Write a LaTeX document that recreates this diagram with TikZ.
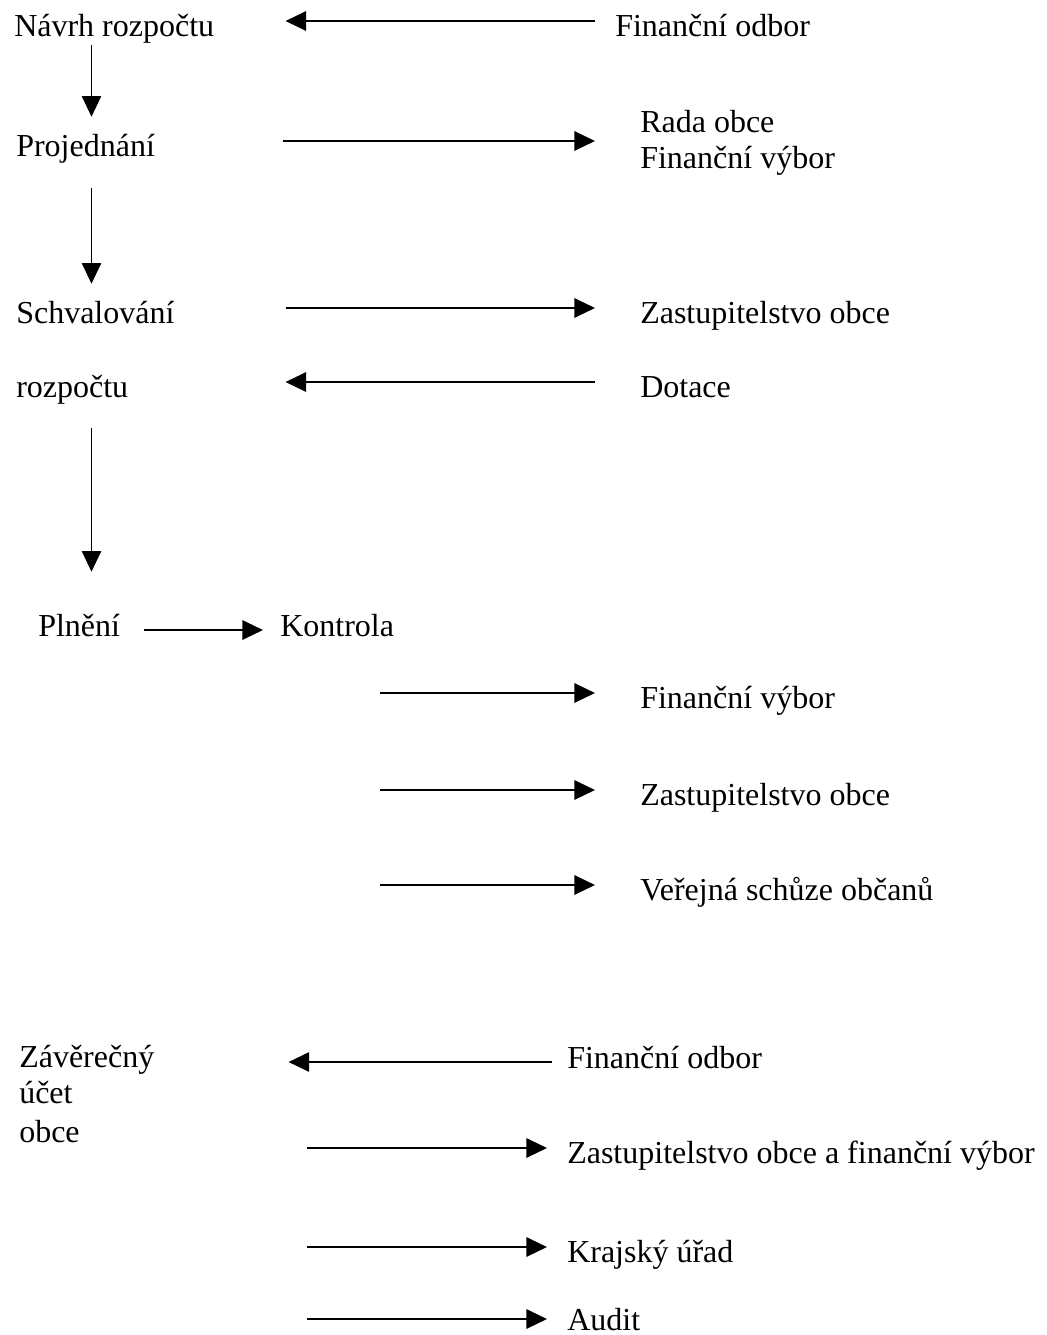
\documentclass[tikz,border=0pt]{standalone}
\usepackage{fontspec}
\setmainfont{Liberation Serif}
\usetikzlibrary{arrows.meta,positioning}

\begin{document}
\begin{tikzpicture}[x=0.75pt,y=-0.75pt,
    txt/.style={anchor=base west,inner sep=0pt,text height=22.5pt,text depth=0pt,
      font=\fontsize{24pt}{27pt}\selectfont},
    harr/.style={-{Triangle[length=15.5pt,width=14.5pt]},line width=1.6pt},
    varr/.style={-{Triangle[length=15.5pt,width=14.5pt]},line width=0.9pt}]
    \useasboundingbox (0,0) rectangle (1046,1335);
    % left column
    \node[txt] (navrh)    at (14,36)   {Návrh rozpočtu};
    \node[txt] (projed)   at (16,156)  {Projednání};
    \node[txt] (schval)   at (16,323)  {Schvalování};
    \node[txt] (rozp)     at (16,397)  {rozpočtu};
    \node[txt] (plneni)   at (38,636)  {Plnění};
    \node[txt] (kontrola) at (280,636) {Kontrola};
    \node[txt] (zaver)    at (19,1067) {Závěrečný};
    \node[txt] (ucet)     [below=27pt of zaver.base west,anchor=base west]    {účet};
    \node[txt] (obce)     [below=29.25pt of ucet.base west,anchor=base west]  {obce};
    % right column
    \node[txt] (fo_1)     at (615,36)  {Finanční odbor};
    \node[txt] (rada)     at (640,132) {Rada obce};
    \node[txt] (fv_1)     [below=27pt of rada.base west,anchor=base west]     {Finanční výbor};
    \node[txt] (zo_1)     at (640,323) {Zastupitelstvo obce};
    \node[txt] (dotace)   at (640,397) {Dotace};
    \node[txt] (fv_2)     at (640,708) {Finanční výbor};
    \node[txt] (zo_2)     at (640,805) {Zastupitelstvo obce};
    \node[txt] (schuze)   at (640,900) {Veřejná schůze občanů};
    \node[txt] (fo_2)     at (567,1068) {Finanční odbor};
    \node[txt] (zo_3)     at (567,1163) {Zastupitelstvo obce a finanční výbor};
    \node[txt] (kraj)     at (567,1262) {Krajský úřad};
    \node[txt] (audit)    at (567,1330) {Audit};
    \coordinate (axis)  at (91.5,0);
    \coordinate (kfrom) at (380,700);
    \coordinate (zfrom) at (307,1150);
    % down the left column
    \draw[varr,shorten <=6.75pt,shorten >=6.75pt] (axis |- navrh.south)  -- (axis |- projed.north);
    \draw[varr,shorten <=24pt,shorten >=6.75pt]   (axis |- projed.south) -- (axis |- schval.north);
    \draw[varr,shorten <=23.25pt,shorten >=25.5pt] (axis |- rozp.south)  -- (axis |- plneni.north);
    % budget
    \draw[harr,shorten <=15pt,shorten >=53.25pt]  (fo_1.west) -- (fo_1.west -| navrh.east);
    \draw[harr,shorten <=96pt,shorten >=33.75pt]  (projed.east) -- (projed.east -| rada.west);
    \draw[harr,shorten <=83.25pt,shorten >=33.75pt] (schval.east) -- (zo_1.west);
    \draw[harr,shorten <=33.75pt,shorten >=117.75pt] (dotace.west) -- (rozp.east);
    % control
    \draw[harr,shorten <=18pt,shorten >=12.75pt] ([yshift=-6.75pt]plneni.east) -- ([yshift=-6.75pt]kontrola.west);
    \draw[harr,shorten >=33.75pt] (kfrom |- fv_2.west)   -- (fv_2.west);
    \draw[harr,shorten >=33.75pt] (kfrom |- zo_2.west)   -- (zo_2.west);
    \draw[harr,shorten >=33.75pt] (kfrom |- schuze.west) -- (schuze.west);
    % final account
    \draw[harr,shorten <=11.25pt,shorten >=100.5pt] ([yshift=-6.75pt]fo_2.west) -- ([yshift=-6.75pt]fo_2.west -| zaver.east);
    \draw[harr,shorten >=15pt] (zfrom |- zo_3.west)  -- (zo_3.west);
    \draw[harr,shorten >=15pt] (zfrom |- kraj.west)  -- (kraj.west);
    \draw[harr,shorten >=15pt] ([yshift=-3pt]zfrom |- audit.west) -- ([yshift=-3pt]audit.west);
\end{tikzpicture}
\end{document}
